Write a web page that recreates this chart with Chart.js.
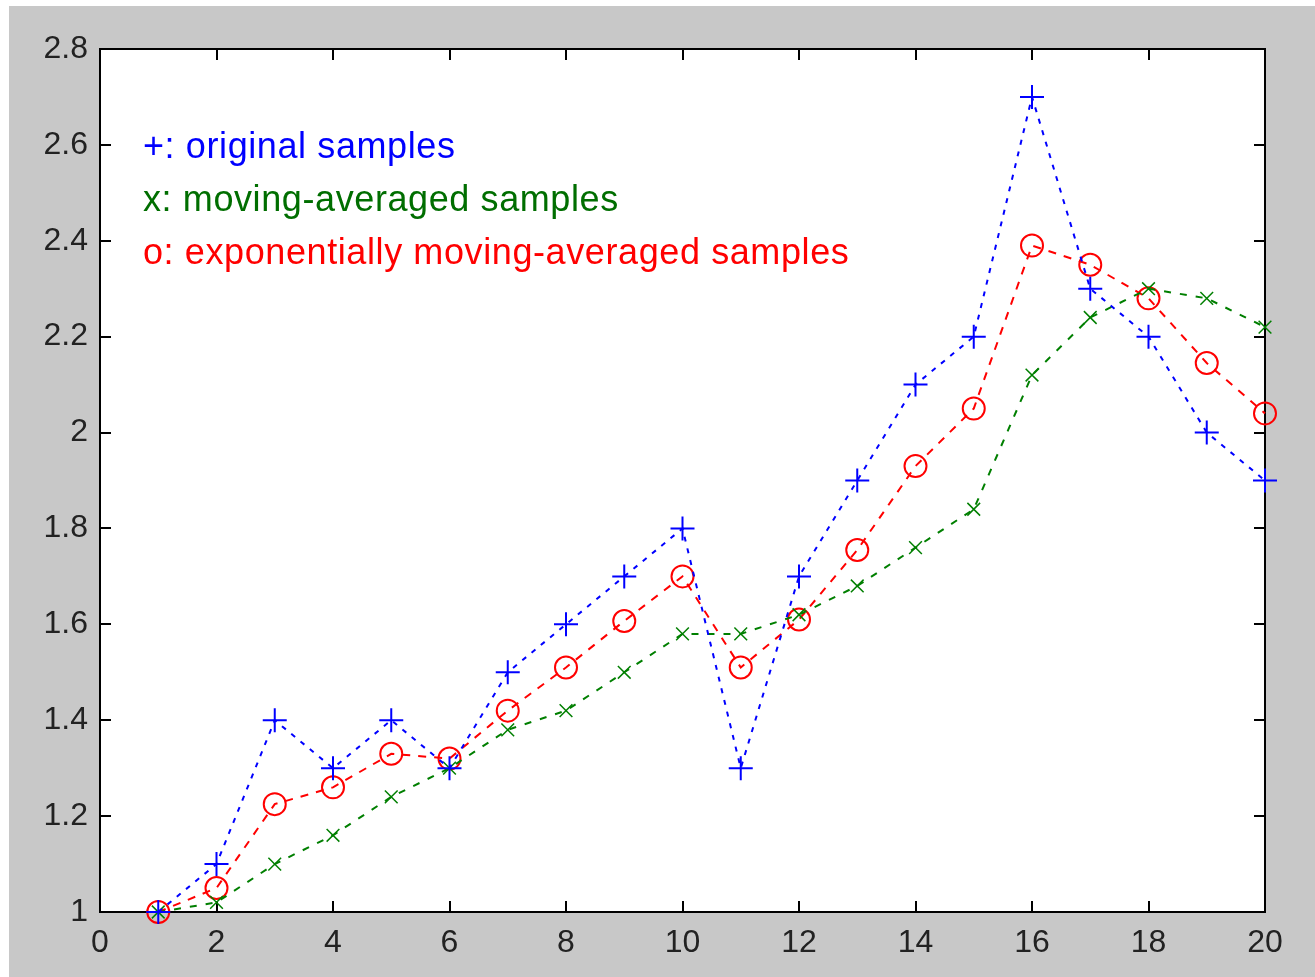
<!DOCTYPE html>
<html>
<head>
  <title>moving average samples</title>
  <script src="https://cdn.jsdelivr.net/npm/chart.js"></script>
  <style>
    body { margin: 0; background: #ffffff; overflow: hidden; }
    #wrap { width: 1315px; height: 977px; }
  </style>
</head>
<body>
  <div id="wrap"><canvas id="sampleChart" width="1315" height="977"></canvas></div>
  <script>
    // values
    const sampleIndex = [1, 2, 3, 4, 5, 6, 7, 8, 9, 10, 11, 12, 13, 14, 15, 16, 17, 18, 19, 20];
    const originalSamples = [1.0, 1.1, 1.4, 1.3, 1.4, 1.3, 1.5, 1.6, 1.7, 1.8, 1.3, 1.7, 1.9, 2.1, 2.2, 2.7, 2.3, 2.2, 2.0, 1.9];
    const movingAveraged = [1.0, 1.02, 1.1, 1.16, 1.24, 1.3, 1.38, 1.42, 1.5, 1.58, 1.58, 1.62, 1.68, 1.76, 1.84, 2.12, 2.24, 2.3, 2.28, 2.22];
    const expMovingAveraged = [1.0, 1.05, 1.225, 1.26, 1.33, 1.32, 1.42, 1.51, 1.607, 1.70, 1.51, 1.61, 1.755, 1.93, 2.05, 2.39, 2.35, 2.28, 2.145, 2.04];
    const xTicks = [0, 2, 4, 6, 8, 10, 12, 14, 16, 18, 20];
    const yTicks = [1, 1.2, 1.4, 1.6, 1.8, 2, 2.2, 2.4, 2.6, 2.8];
    const legendLines = [
      { text: '+: original samples', color: '#0000ff' },
      { text: 'x: moving-averaged samples', color: '#006e00' },
      { text: 'o: exponentially moving-averaged samples', color: '#ff0000' }
    ];

    const toPoints = arr => arr.map((v, i) => ({ x: sampleIndex[i], y: v }));

    // grey figure, white axes box, inward ticks, text legend
    const matlabFrame = {
      id: 'matlabFrame',
      beforeDraw(chart) {
        const ctx = chart.ctx;
        const a = chart.chartArea;
        ctx.save();
        ctx.fillStyle = '#ffffff';
        ctx.fillRect(0, 0, chart.width, chart.height);
        ctx.fillStyle = '#c8c8c8';
        ctx.fillRect(9, 6, chart.width - 9, chart.height - 6);
        ctx.fillStyle = '#ffffff';
        ctx.fillRect(a.left, a.top, a.right - a.left, a.bottom - a.top);
        ctx.restore();
      },
      beforeDatasetsDraw(chart) {
        const ctx = chart.ctx;
        const a = chart.chartArea;
        const xs = chart.scales.x, ys = chart.scales.y;
        ctx.save();
        ctx.strokeStyle = '#000000';
        ctx.lineWidth = 2;
        ctx.strokeRect(a.left, a.top, a.right - a.left, a.bottom - a.top);
        ctx.beginPath();
        const tl = 11;
        xTicks.forEach(t => {
          const px = Math.round(xs.getPixelForValue(t));
          ctx.moveTo(px, a.bottom); ctx.lineTo(px, a.bottom - tl);
          ctx.moveTo(px, a.top); ctx.lineTo(px, a.top + tl);
        });
        yTicks.forEach(t => {
          const py = Math.round(ys.getPixelForValue(t));
          ctx.moveTo(a.left, py); ctx.lineTo(a.left + tl, py);
          ctx.moveTo(a.right, py); ctx.lineTo(a.right - tl, py);
        });
        ctx.stroke();

        ctx.font = '36px "Liberation Sans", Arial, sans-serif';
        ctx.letterSpacing = '0.6px';
        ctx.textBaseline = 'alphabetic';
        ctx.textAlign = 'left';
        const baseY = [158, 211, 264];
        legendLines.forEach((l, i) => {
          ctx.fillStyle = l.color;
          ctx.fillText(l.text, 143, baseY[i]);
        });
        ctx.restore();
      }
    };

    const tickFont = { family: '"Liberation Sans", Arial, sans-serif', size: 32 };

    new Chart(document.getElementById('sampleChart'), {
      type: 'line',
      data: {
        datasets: [
          {
            label: 'original samples',
            data: toPoints(originalSamples),
            borderColor: '#0000ff',
            borderWidth: 2,
            borderDash: [5, 7],
            pointStyle: 'cross',
            pointRadius: 12,
            pointBorderWidth: 2,
            pointBorderColor: '#0000ff',
            clip: false,
            tension: 0
          },
          {
            label: 'moving-averaged samples',
            data: toPoints(movingAveraged),
            borderColor: '#007f00',
            borderWidth: 2,
            borderDash: [7, 9],
            pointStyle: 'crossRot',
            pointRadius: 9,
            pointBorderWidth: 1.5,
            pointBorderColor: '#007f00',
            clip: false,
            tension: 0
          },
          {
            label: 'exponentially moving-averaged samples',
            data: toPoints(expMovingAveraged),
            borderColor: '#ff0000',
            borderWidth: 2,
            borderDash: [8, 8],
            pointStyle: 'circle',
            pointRadius: 11,
            pointBorderWidth: 2,
            pointBorderColor: '#ff0000',
            pointBackgroundColor: 'rgba(0,0,0,0)',
            clip: false,
            tension: 0
          }
        ]
      },
      options: {
        responsive: false,
        animation: false,
        layout: { padding: { top: 49, right: 50, left: 0, bottom: 0 } },
        plugins: {
          legend: { display: false },
          tooltip: { enabled: false }
        },
        scales: {
          x: {
            type: 'linear',
            min: 0,
            max: 20,
            afterFit: s => { s.height = 65; },
            afterBuildTicks: s => { s.ticks = xTicks.map(v => ({ value: v })); },
            grid: { display: false, drawTicks: false },
            border: { display: false },
            ticks: {
              padding: 12,
              color: '#222222',
              font: tickFont,
              maxRotation: 0,
              callback: v => String(v)
            }
          },
          y: {
            min: 1,
            max: 2.8,
            afterFit: s => { s.width = 100; },
            afterBuildTicks: s => { s.ticks = yTicks.map(v => ({ value: v })); },
            grid: { display: false, drawTicks: false },
            border: { display: false },
            ticks: {
              padding: 12,
              color: '#222222',
              font: tickFont,
              callback: v => String(Number(v.toFixed(1)))
            }
          }
        }
      },
      plugins: [matlabFrame]
    });
  </script>
</body>
</html>
